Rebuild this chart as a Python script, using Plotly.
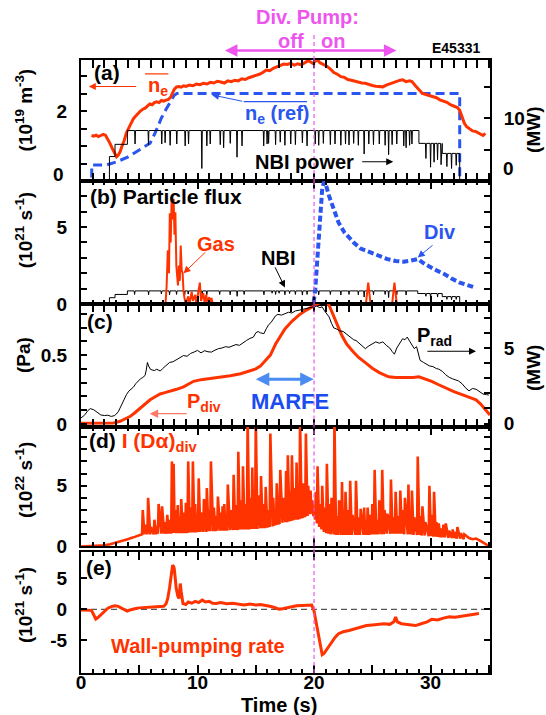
import plotly.graph_objects as go

RED = "#ff3300"
BLUE = "#2a55ee"
MAGENTA = "#ee55ee"
LIGHT_BLUE = "#4a8cf2"
LIGHT_RED = "#ff7a66"
FONT = "Liberation Sans, Arial, Helvetica, sans-serif"

# ---------------- panel (a): line-averaged density, reference, NBI power ----------------
ne_t = [0.9, 1.1, 1.3, 1.5, 1.7, 1.9, 2.1, 2.3, 2.5, 2.7, 2.9, 3.05, 3.2, 3.35, 3.5, 3.7, 3.9, 4.1,
        4.3, 4.5, 4.7, 4.9, 5.1, 5.3, 5.5, 5.7, 5.9, 6.1, 6.3, 6.5, 6.7, 6.9, 7.1, 7.3, 7.5, 7.7,
        7.85, 8.0, 8.2, 8.4, 8.6, 8.8, 9.0, 9.3, 9.6, 9.9, 10.2, 10.5, 10.8, 11.1, 11.4, 11.7, 12.0,
        12.3, 12.6, 12.9, 13.2, 13.5, 13.8, 14.1, 14.4, 14.7, 15.0, 15.3, 15.6, 15.9, 16.2, 16.5,
        16.8, 17.1, 17.4, 17.7, 18.0, 18.3, 18.6, 18.9, 19.2, 19.5, 19.7, 19.9, 20.1, 20.3, 20.5,
        20.8, 21.1, 21.4, 21.7, 22.0, 22.3, 22.6, 22.9, 23.2, 23.5, 23.8, 24.1, 24.4, 24.7, 25.0,
        25.3, 25.6, 25.9, 26.2, 26.5, 26.8, 27.1, 27.4, 27.6, 27.9, 28.2, 28.4, 28.7, 29.0, 29.3,
        29.6, 29.9, 30.2, 30.5, 30.8, 31.1, 31.4, 31.7, 32.0, 32.3, 32.5, 32.7, 32.9, 33.1, 33.3,
        33.6, 33.9, 34.2, 34.5, 34.7]
ne_val = [1.30, 1.28, 1.31, 1.27, 1.30, 1.33, 1.31, 1.20, 1.07, 0.92, 0.78, 0.69, 0.74, 0.83, 0.98,
          1.15, 1.38, 1.52, 1.66, 1.78, 1.86, 1.94, 2.00, 2.05, 2.08, 2.14, 2.20, 2.18, 2.24, 2.26,
          2.24, 2.30, 2.28, 2.31, 2.33, 2.40, 2.50, 2.62, 2.69, 2.70, 2.68, 2.72, 2.70, 2.74, 2.72,
          2.77, 2.75, 2.79, 2.77, 2.82, 2.80, 2.85, 2.83, 2.80, 2.86, 2.84, 2.88, 2.86, 2.92, 2.90,
          2.95, 2.98, 3.02, 3.05, 3.10, 3.17, 3.15, 3.22, 3.26, 3.30, 3.34, 3.33, 3.36, 3.31, 3.35,
          3.32, 3.38, 3.44, 3.40, 3.36, 3.42, 3.46, 3.38, 3.33, 3.28, 3.20, 3.10, 3.05, 2.98, 2.96,
          2.90, 2.88, 2.85, 2.82, 2.80, 2.79, 2.75, 2.73, 2.71, 2.70, 2.69, 2.74, 2.78, 2.80, 2.84,
          2.88, 2.89, 2.84, 2.86, 2.84, 2.72, 2.60, 2.50, 2.47, 2.44, 2.40, 2.38, 2.32, 2.28, 2.25,
          2.18, 2.15, 2.10, 2.02, 1.84, 1.65, 1.55, 1.50, 1.43, 1.41, 1.36, 1.30, 1.36]

ne_ref_t = [0.92, 0.92, 2.2, 3.07, 4.0, 4.8, 5.4, 5.93, 6.4, 6.9, 7.3, 7.65, 8.0, 8.23, 32.5, 32.5]
ne_ref_val = [-0.3, 0.46, 0.46, 0.55, 0.68, 0.84, 0.95, 1.08, 1.4, 1.8, 2.05, 2.27, 2.45, 2.5, 2.5, -0.3]

# NBI power (MW): plateau levels switched at the given times, plus short dropouts
nbi_step_t = [0.0, 2.44, 2.92, 3.98, 29.0, 31.0, 32.5]
nbi_step_mw = [0.0, 3.9, 5.85, 8.05, 6.0, 4.4, 0.0]
nbi_dip_t = [4.64, 5.79, 6.93, 7.22, 7.65, 8.22, 8.94, 9.23, 10.37, 10.8, 11.09, 11.95, 12.24, 12.81,
             13.39, 13.82, 15.68, 15.97, 16.1, 16.7, 17.1, 17.5, 18.0, 18.4, 19.0, 19.4, 20.1, 20.4,
             20.8, 21.4, 21.8, 22.3, 22.7, 23.0, 23.4, 23.8, 24.3, 24.7, 25.1, 25.6, 26.1, 26.4,
             26.7, 27.1, 27.7, 27.9, 28.2, 28.4, 29.6, 30.0, 30.3, 30.6, 30.9, 31.4, 31.8, 32.2]
nbi_dip_mw = [5.9, 5.8, 5.9, 6.1, 5.7, 5.9, 5.6, 5.9, 2.0, 5.6, 5.9, 5.8, 5.3, 6.0,
              3.8, 5.6, 5.6, 5.9, 6.0, 5.8, 6.2, 5.7, 5.9, 5.8, 6.1, 5.6, 5.9, 5.7,
              6.0, 5.8, 5.9, 5.7, 5.9, 5.75, 6.0, 5.7, 4.3, 5.9, 5.8, 5.9, 5.7, 4.2,
              5.8, 5.9, 5.6, 5.3, 5.7, 5.9, 3.6, 2.2, 3.0, 3.4, 2.6, 2.3, 2.0, 2.5]

# ---------------- panel (b): particle fluxes (1e21 /s) ----------------
gas_t = [0.0, 7.25, 7.35, 7.45, 7.55, 7.62, 7.7, 7.78, 7.85, 7.95, 8.02, 8.1, 8.18, 8.25, 8.32, 8.4,
         8.48, 8.56, 8.64, 8.72, 8.8, 8.9, 9.0, 9.2, 9.3, 9.5, 9.6, 9.8, 9.9, 10.05, 10.2, 10.3,
         10.5, 10.6, 10.75, 10.85, 11.0, 11.1, 11.2, 11.3, 24.45, 24.65, 24.85, 26.7, 26.9, 27.1, 35.0]
gas_val = [0.0, 0.0, 1.2, 3.5, 2.0, 5.9, 4.0, 6.95, 5.5, 6.85, 4.5, 5.97, 2.5, 1.8, 1.2, 2.5,
           1.5, 3.8, 2.2, 2.0, 0.8, 0.3, 0.0, 0.5, 0.0, 0.8, 0.2, 0.6, 0.0, 0.7, 1.39, 0.2,
           0.7, 0.1, 0.6, 0.0, 0.45, 0.0, 0.4, 0.0, 0.0, 1.39, 0.0, 0.0, 1.39, 0.0, 0.0]

nbi_flux_step_t = [0.0, 2.44, 2.92, 3.98, 28.9, 31.0, 32.5]
nbi_flux_step_v = [0.0, 0.41, 0.62, 0.85, 0.68, 0.48, 0.0]
nbi_flux_dip_t = [4.6, 5.8, 6.9, 7.6, 8.2, 8.9, 9.2, 10.4, 10.8, 11.9, 12.8, 13.4, 14.0, 15.7, 16.4,
                  16.7, 17.0, 17.5, 17.9, 18.4, 19.0, 19.4, 20.4, 21.4, 22.3, 23.0, 23.8, 24.3,
                  25.1, 26.1, 26.4, 27.1, 27.9, 29.6, 30.0, 30.6, 31.4, 31.8, 32.2]
nbi_flux_dip_v = [0.62, 0.6, 0.65, 0.6, 0.62, 0.58, 0.64, 0.45, 0.6, 0.62, 0.6, 0.5, 0.62, 0.6, 0.7,
                  0.62, 0.7, 0.6, 0.68, 0.62, 0.58, 0.62, 0.6, 0.62, 0.58, 0.62, 0.6, 0.45,
                  0.6, 0.62, 0.42, 0.6, 0.58, 0.5, 0.4, 0.45, 0.3, 0.28, 0.3]

div_t = [0.0, 19.95, 20.1, 20.3, 20.5, 20.7, 20.85, 21.0, 21.3, 21.7, 22.1, 22.6, 23.0, 23.4, 24.0,
         24.9, 25.6, 26.3, 27.0, 27.7, 28.3, 28.9, 29.5, 30.0, 30.6, 31.2, 31.8, 32.5, 33.2, 33.9]
div_val = [0.0, 0.0, 0.9, 3.0, 5.5, 7.5, 7.95, 7.8, 7.0, 6.2, 5.3, 4.66, 4.3, 4.0, 3.6,
           3.35, 3.1, 2.92, 2.8, 2.75, 2.82, 2.92, 2.6, 2.37, 2.15, 1.94, 1.65, 1.39, 1.2, 1.05]

# ---------------- panel (c): divertor neutral pressure (Pa) and radiated power (MW) ----------------
pdiv_t = [0.0, 1.0, 2.0, 2.8, 3.35, 3.8, 4.2, 4.6, 5.07, 5.5, 5.93, 6.4, 6.79, 7.2, 7.65, 8.2, 8.8,
          9.2, 9.66, 10.3, 11.09, 12.0, 12.81, 13.7, 14.53, 15.0, 15.39, 15.8, 16.25, 16.7, 17.1,
          17.5, 18.1, 18.7, 19.3, 19.8, 20.3, 20.7, 21.0, 21.3, 21.55, 21.8, 22.1, 22.4, 22.8,
          23.3, 23.8, 24.4, 25.0, 25.6, 26.0, 26.4, 27.0, 27.9, 28.5, 29.0, 29.5, 30.1, 30.7,
          31.3, 32.0, 32.7, 33.3, 33.9, 34.3, 34.7, 35.1]
pdiv_pa = [0.005, 0.005, 0.005, 0.008, 0.02, 0.035, 0.054, 0.08, 0.115, 0.15, 0.176, 0.2, 0.218,
           0.228, 0.238, 0.252, 0.27, 0.29, 0.31, 0.322, 0.33, 0.34, 0.35, 0.365, 0.385, 0.4, 0.42,
           0.46, 0.5, 0.58, 0.64, 0.69, 0.745, 0.79, 0.825, 0.85, 0.875, 0.89, 0.885, 0.86, 0.81,
           0.765, 0.7, 0.64, 0.58, 0.53, 0.485, 0.446, 0.405, 0.373, 0.355, 0.343, 0.338, 0.336,
           0.338, 0.343, 0.33, 0.31, 0.285, 0.26, 0.235, 0.213, 0.195, 0.176, 0.145, 0.105, 0.065]

prad_t = [0.0, 0.3, 0.6, 0.8, 1.1, 1.4, 1.7, 2.0, 2.3, 2.6, 2.9, 3.2, 3.5, 3.7, 3.9, 4.1, 4.3, 4.5,
          4.7, 4.9, 5.1, 5.3, 5.5, 5.6, 5.7, 5.8, 5.95, 6.1, 6.3, 6.5, 6.8, 7.0, 7.3, 7.6, 7.9, 8.2,
          8.5, 8.8, 9.1, 9.4, 9.7, 10.0, 10.3, 10.6, 10.9, 11.2, 11.5, 11.8, 12.1, 12.4, 12.7, 13.0,
          13.3, 13.6, 13.9, 14.2, 14.5, 14.8, 15.0, 15.2, 15.4, 15.7, 15.9, 16.1, 16.3, 16.5, 16.7,
          16.9, 17.2, 17.5, 17.8, 18.1, 18.4, 18.7, 19.0, 19.3, 19.6, 19.9, 20.2, 20.5, 20.7, 20.9,
          21.1, 21.3, 21.5, 21.7, 21.9, 22.2, 22.5, 22.8, 23.1, 23.4, 23.6, 23.9, 24.2, 24.4, 24.7,
          25.0, 25.3, 25.6, 25.9, 26.2, 26.5, 26.7, 26.9, 27.1, 27.3, 27.6, 27.8, 28.0, 28.2, 28.4,
          28.6, 28.8, 29.0, 29.1, 29.4, 29.7, 29.9, 30.2, 30.5, 30.7, 31.0, 31.3, 31.6, 31.9, 32.2,
          32.4, 32.7, 33.0, 33.3, 33.6, 33.9, 34.2, 34.5, 34.8, 35.0]
prad_mw = [0.37, 0.55, 0.87, 0.99, 0.91, 0.73, 0.57, 0.53, 0.55, 0.47, 0.53, 0.78, 1.28, 1.64, 1.92,
           2.15, 2.28, 2.42, 2.65, 2.83, 2.97, 3.06, 3.2, 3.56, 4.06, 3.83, 3.61, 3.56, 3.52, 3.61,
           3.49, 3.65, 3.83, 4.06, 4.11, 4.25, 4.43, 4.52, 4.47, 4.66, 4.75, 4.86, 4.7, 4.84, 4.77,
           4.75, 4.88, 4.98, 5.02, 5.11, 5.07, 5.16, 5.25, 5.2, 5.39, 5.52, 5.66, 5.75, 6.03, 6.12,
           6.03, 5.98, 6.3, 6.57, 6.71, 6.94, 7.17, 7.26, 7.21, 7.3, 7.4, 7.35, 7.49, 7.53, 7.58,
           7.62, 7.71, 7.76, 7.81, 7.71, 7.76, 7.49, 7.3, 7.08, 6.66, 6.35, 6.3, 6.16, 6.12, 5.93,
           5.75, 5.57, 5.52, 5.3, 5.11, 4.98, 5.16, 5.3, 5.43, 5.34, 5.43, 5.2, 5.02, 4.79, 4.61,
           5.02, 5.3, 5.64, 5.57, 5.75, 5.48, 5.2, 4.98, 5.11, 4.57, 4.2, 4.06, 3.93, 3.83, 3.79,
           3.65, 3.62, 3.47, 3.24, 3.07, 2.97, 2.88, 2.83, 2.65, 2.37, 2.17, 2.33, 2.28, 2.1, 1.96,
           1.92, 1.89]

# ---------------- panel (d): divertor D-alpha intensity (1e22 /s) ----------------
da_head_t = [0.0, 0.5, 1.0, 1.5, 2.0, 2.5, 3.0, 3.5, 4.0, 4.5, 5.0]
da_head_v = [0.0, 0.02, 0.05, 0.08, 0.1, 0.18, 0.3, 0.45, 0.6, 0.75, 0.9]
da_spike_t = [5.30, 5.50, 5.76, 6.00, 6.30, 6.50, 6.66, 6.96, 7.20, 7.40, 7.60, 7.80, 7.95, 8.10,
              8.30, 8.45, 8.60, 8.80, 9.00, 9.20, 9.40, 9.60, 9.80, 9.95, 10.10, 10.30, 10.55,
              10.80, 11.00, 11.15, 11.40, 11.60, 11.75, 12.00, 12.15, 12.30, 12.45, 12.60, 12.85,
              13.10, 13.30, 13.50, 13.70, 13.90, 14.10, 14.30, 14.50, 14.70, 14.85, 15.00, 15.20,
              15.45, 15.65, 15.85, 16.05, 16.25, 16.50, 16.65, 16.80, 17.00, 17.10, 17.35, 17.60,
              17.75, 17.95, 18.10, 18.30, 18.50, 18.65, 18.80, 19.00, 19.10, 19.30, 19.50, 19.70,
              19.85, 20.00, 20.15, 20.30, 20.50, 20.70, 20.90, 21.10, 21.30, 21.50, 21.75, 21.95,
              22.15, 22.40, 22.55, 22.70, 22.90, 23.10, 23.30, 23.60, 23.80, 24.00, 24.30, 24.45,
              24.60, 24.80, 25.00, 25.20, 25.40, 25.60, 25.85, 26.05, 26.30, 26.60, 26.80, 27.00,
              27.20, 27.40, 27.60, 27.80, 28.10, 28.25, 28.40, 28.60, 28.90, 29.10, 29.30, 29.55,
              29.90, 30.10, 30.30, 30.50, 30.70, 30.90, 31.10, 31.30, 31.60, 31.90, 32.10, 32.30,
              32.60, 32.90]
da_spike_peak = [3.0, 1.8, 4.0, 1.6, 2.2, 1.7, 3.5, 3.3, 2.0, 2.6, 2.2, 7.0, 6.8, 3.0,
                 3.4, 2.4, 3.9, 2.8, 3.6, 7.0, 3.2, 7.0, 3.5, 2.6, 5.6, 2.8, 3.9,
                 4.8, 3.0, 7.0, 3.2, 2.5, 4.1, 2.8, 3.3, 3.5, 2.6, 5.1, 3.0,
                 5.9, 3.4, 7.8, 3.8, 6.6, 3.5, 10.5, 4.0, 6.5, 3.3, 10.5, 4.2,
                 5.8, 3.5, 4.9, 3.0, 9.3, 4.0, 3.0, 5.2, 3.2, 6.3, 4.0, 6.2,
                 7.5, 4.5, 7.5, 4.8, 6.9, 4.2, 10.5, 4.5, 5.2, 9.3, 5.0, 4.6,
                 3.8, 3.2, 4.5, 6.6, 3.5, 5.0, 3.2, 6.8, 3.5, 4.0, 10.5, 2.5,
                 3.8, 5.3, 2.5, 4.5, 3.0, 5.4, 2.6, 5.4, 2.4, 3.1, 3.2, 2.0,
                 3.2, 2.6, 3.5, 6.3, 2.2, 3.8, 6.3, 3.0, 2.7, 5.5, 2.4, 4.5,
                 2.5, 4.6, 3.0, 4.0, 5.1, 2.6, 4.6, 2.4, 7.4, 2.5, 3.3, 2.0,
                 5.0, 2.6, 4.5, 2.0, 1.9, 1.5, 1.8, 1.9, 1.3, 1.4, 1.2, 1.6,
                 1.1, 1.0]
da_spike_foot = [1.0, 1.0, 1.0, 1.0, 1.0, 1.0, 1.05, 1.05, 1.05, 1.05, 1.05, 1.05, 1.1, 1.1,
                 1.1, 1.1, 1.1, 1.1, 1.1, 1.1, 1.15, 1.15, 1.15, 1.15, 1.2, 1.2, 1.2,
                 1.2, 1.25, 1.25, 1.25, 1.25, 1.3, 1.3, 1.3, 1.3, 1.3, 1.3, 1.35,
                 1.35, 1.35, 1.35, 1.4, 1.4, 1.4, 1.4, 1.4, 1.45, 1.45, 1.45, 1.45,
                 1.5, 1.5, 1.5, 1.55, 1.6, 1.65, 1.7, 1.75, 1.8, 1.85, 1.95, 2.0,
                 2.0, 2.05, 2.1, 2.15, 2.2, 2.2, 2.25, 2.3, 2.35, 2.4, 2.5, 2.65,
                 2.7, 2.5, 2.2, 1.9, 1.6, 1.4, 1.2, 1.1, 1.05, 1.0, 1.0, 0.95,
                 0.95, 0.95, 0.95, 0.95, 0.95, 0.95, 0.95, 0.95, 0.95, 0.95, 0.95, 0.95,
                 0.95, 0.95, 1.0, 1.0, 1.0, 1.0, 1.0, 1.0, 1.05, 1.05, 1.05, 1.05,
                 1.05, 1.05, 1.05, 1.0, 1.0, 1.0, 1.0, 0.95, 0.95, 0.95, 0.9, 0.9,
                 0.85, 0.85, 0.8, 0.8, 0.8, 0.75, 0.75, 0.75, 0.7, 0.7, 0.7, 0.65,
                 0.65, 0.6]
da_tail_t = [33.3, 33.6, 33.9, 34.2, 34.5, 34.8, 35.0]
da_tail_v = [0.7, 0.6, 0.65, 0.5, 0.35, 0.15, 0.0]

# ---------------- panel (e): wall-pumping rate (1e21 /s) ----------------
wall_t = [0.0, 0.5, 0.9, 1.1, 1.27, 1.45, 1.7, 2.0, 2.3, 2.6, 2.9, 3.2, 3.5, 3.75, 3.96, 4.2, 4.4,
          4.7, 5.0, 5.5, 6.0, 6.5, 7.1, 7.3, 7.45, 7.6, 7.7, 7.8, 7.86, 7.95, 8.0, 8.1, 8.17, 8.3,
          8.4, 8.47, 8.52, 8.6, 8.75, 9.0, 9.2, 9.5, 9.8, 10.1, 10.4, 10.7, 11.0, 11.3, 11.6, 12.0,
          12.5, 13.0, 13.5, 14.0, 14.5, 15.0, 15.4, 15.8, 16.2, 16.6, 17.0, 17.3, 17.6, 18.0, 18.5,
          19.0, 19.5, 19.8, 19.98, 20.15, 20.3, 20.5, 20.7, 20.85, 21.0, 21.2, 21.5, 21.8, 22.1,
          22.5, 23.0, 23.5, 24.0, 24.5, 25.0, 25.5, 26.0, 26.5, 26.85, 27.0, 27.15, 27.5, 28.0,
          28.7, 29.2, 29.7, 30.1, 30.6, 31.1, 31.6, 32.1, 32.6, 33.1, 33.6, 34.15]
wall_val = [-0.1, -0.1, -0.15, -0.9, -1.55, -1.3, -0.9, -0.4, 0.2, 0.45, 0.6, 0.5, 0.25, 0.0, -0.26,
            -0.1, 0.05, 0.15, 0.25, 0.3, 0.35, 0.45, 0.5, 0.9, 1.8, 3.5, 5.0, 6.4, 7.1, 6.9, 6.6,
            4.8, 3.4, 2.2, 1.76, 3.0, 4.17, 2.8, 0.95, 0.8, 1.2, 1.0, 1.3, 1.1, 1.5, 1.2, 1.3, 1.0,
            0.95, 1.1, 0.9, 1.0, 0.8, 0.7, 0.85, 0.7, 0.8, 0.7, 0.5, 0.3, 0.05, 0.1, 0.25, 0.45,
            0.58, 0.62, 0.65, 0.7, -0.1, -1.8, -3.6, -5.5, -7.3, -7.1, -6.7, -6.0, -5.2, -4.5,
            -3.9, -3.6, -3.4, -3.1, -2.9, -2.6, -2.5, -2.4, -2.3, -2.4, -2.0, -1.2, -2.0, -2.3,
            -2.4, -2.6, -2.3, -2.0, -1.6, -1.7, -1.4, -1.2, -1.25, -1.1, -0.95, -0.85, -0.65]

PUMP_ON_T = 20.0


def level_at(t, step_t, step_v):
    lvl = step_v[0]
    for st, sv in zip(step_t, step_v):
        if t >= st:
            lvl = sv
    return lvl


def plateau_with_dips(step_t, step_v, dip_t, dip_v, t_end, half_width=0.04):
    """Piecewise-constant signal with vertical steps and narrow downward dropouts."""
    events = []
    for i, (st, sv) in enumerate(zip(step_t, step_v)):
        prev = step_v[i - 1] if i > 0 else sv
        events.append((st, [(st, prev), (st, sv)]))
    for dt, dv in zip(dip_t, dip_v):
        lvl = level_at(dt, step_t, step_v)
        events.append((dt, [(dt - half_width, lvl), (dt, dv), (dt + half_width, lvl)]))
    events.sort(key=lambda e: e[0])
    xs, ys = [], []
    for _, pts in events:
        for x, y in pts:
            xs.append(x)
            ys.append(y)
    xs.append(t_end)
    ys.append(step_v[-1])
    return xs, ys


nbi_x, nbi_y = plateau_with_dips(nbi_step_t, nbi_step_mw, nbi_dip_t, nbi_dip_mw, 35.1)
nbif_x, nbif_y = plateau_with_dips(nbi_flux_step_t, nbi_flux_step_v, nbi_flux_dip_t, nbi_flux_dip_v, 35.1)

da_x = list(da_head_t)
da_y = list(da_head_v)
for t, pk, ft in zip(da_spike_t, da_spike_peak, da_spike_foot):
    da_x += [t - 0.06, t]
    da_y += [ft, pk]
da_x += da_tail_t
da_y += da_tail_v

fig = go.Figure()

# panel (a)
fig.add_trace(go.Scatter(x=nbi_x, y=nbi_y, xaxis="x", yaxis="y2", mode="lines",
                         line=dict(color="black", width=1)))
fig.add_trace(go.Scatter(x=ne_ref_t, y=ne_ref_val, xaxis="x", yaxis="y", mode="lines",
                         line=dict(color=BLUE, width=3, dash="9px,5px")))
fig.add_trace(go.Scatter(x=ne_t, y=ne_val, xaxis="x", yaxis="y", mode="lines",
                         line=dict(color=RED, width=3)))
# panel (b)
fig.add_trace(go.Scatter(x=nbif_x, y=nbif_y, xaxis="x2", yaxis="y3", mode="lines",
                         line=dict(color="black", width=1)))
fig.add_trace(go.Scatter(x=gas_t, y=gas_val, xaxis="x2", yaxis="y3", mode="lines",
                         line=dict(color=RED, width=2)))
fig.add_trace(go.Scatter(x=div_t, y=div_val, xaxis="x2", yaxis="y3", mode="lines",
                         line=dict(color=BLUE, width=4, dash="6px,3px")))
# panel (c)
fig.add_trace(go.Scatter(x=prad_t, y=prad_mw, xaxis="x3", yaxis="y5", mode="lines",
                         line=dict(color="black", width=1)))
fig.add_trace(go.Scatter(x=pdiv_t, y=pdiv_pa, xaxis="x3", yaxis="y4", mode="lines",
                         line=dict(color=RED, width=3)))
# panel (d)
fig.add_trace(go.Scatter(x=da_x, y=da_y, xaxis="x4", yaxis="y6", mode="lines",
                         line=dict(color=RED, width=2.6)))
# panel (e)
fig.add_trace(go.Scatter(x=wall_t, y=wall_val, xaxis="x5", yaxis="y7", mode="lines",
                         line=dict(color=RED, width=3)))

X_RANGE = [0, 35.1]
AX_LINE = dict(showline=True, linecolor="black", linewidth=2, showgrid=False, zeroline=False,
               ticks="inside", tickcolor="black", tickwidth=1.5)


def x_axis(anchor, labels):
    return dict(AX_LINE, range=X_RANGE, domain=[0, 1], anchor=anchor, mirror="allticks",
                ticklen=8, tickmode="array", tickvals=[0, 5, 10, 15, 20, 25, 30, 35],
                ticktext=["0", "", "10", "", "20", "", "30", ""], showticklabels=labels,
                ticklabelstandoff=-9,
                minor=dict(ticks="inside", ticklen=4, tickwidth=1.5, tickcolor="black",
                           tickmode="linear", tick0=0, dtick=1))


def y_axis(domain, rng, tickvals, ticktext, minor_dtick, anchor, mirror, side="left", overlaying=None):
    d = dict(AX_LINE, domain=domain, range=rng, anchor=anchor, mirror=mirror, side=side,
             ticklen=6, tickmode="array", tickvals=tickvals, ticktext=ticktext,
             ticklabelstandoff=8)
    if minor_dtick:
        d["minor"] = dict(ticks="inside", ticklen=6, tickwidth=1.5, tickcolor="black",
                          tickmode="linear", tick0=0, dtick=minor_dtick)
    if overlaying:
        d["overlaying"] = overlaying
        d.pop("domain")
    return d


fig.update_layout(
    width=546, height=715,
    margin=dict(l=81, r=56, t=60, b=42),
    paper_bgcolor="white", plot_bgcolor="white",
    showlegend=False,
    font=dict(family=FONT, size=19, color="black", weight="bold"),
    xaxis=x_axis("y", False),
    xaxis2=x_axis("y3", False),
    xaxis3=x_axis("y4", False),
    xaxis4=x_axis("y6", False),
    xaxis5=x_axis("y7", True),
    # the "0" labels of panel (a) sit slightly above the frame; they are drawn as annotations below
    yaxis=y_axis([0.8026, 1.0], [0, 3.457], [0, 2], ["", "2"], 0.5, "x", False),
    yaxis2=y_axis(None, [0, 19.3], [0, 10], ["", "10"], 5, "x", False, "right", "y"),
    yaxis3=y_axis([0.602, 0.8026], [0, 8.0], [0, 5], ["0", "5"], 1, "x2", "allticks"),
    yaxis4=y_axis([0.4021, 0.602], [-0.018, 0.871], [0, 0.5], ["0", "0.5"], 0.1, "x3", False),
    yaxis5=y_axis(None, [-0.2, 7.95], [0, 5], ["0", "5"], 1, "x3", False, "right", "y4"),
    yaxis6=y_axis([0.2064, 0.4021], [0, 9.87], [0, 5], ["0", "5"], 1, "x4", "allticks"),
    yaxis7=y_axis([0.0, 0.1979], [-10.23, 9.29], [-5, 0, 5], ["-5", "0", "5"], None, "x5", "allticks"),
)

PUMP_LINE = dict(color=MAGENTA, width=1.2, dash="4px,3px")
shapes = []
# pump switch-on time: one segment per panel, plus the header and the gap above panel (e)
for yr in ["y", "y3", "y4", "y6", "y7"]:
    shapes.append(dict(type="line", xref="x", yref=yr + " domain", x0=PUMP_ON_T, x1=PUMP_ON_T,
                       y0=0, y1=1, line=PUMP_LINE, layer="above"))
shapes.append(dict(type="line", xref="x", yref="y domain", x0=PUMP_ON_T, x1=PUMP_ON_T,
                   y0=1, y1=1.22, line=PUMP_LINE, layer="above"))
shapes.append(dict(type="line", xref="x", yref="y6 domain", x0=PUMP_ON_T, x1=PUMP_ON_T,
                   y0=-0.05, y1=0, line=PUMP_LINE, layer="above"))
shapes += [
    # zero reference in panel (e)
    dict(type="line", xref="x5 domain", yref="y7", x0=0, x1=1, y0=0, y1=0,
         line=dict(color="#555555", width=1.2, dash="6px,4px"), layer="below"),
    # overbars of the density labels
    dict(type="line", xref="x", yref="y", x0=5.5, x1=7.5, y0=3.06, y1=3.06,
         line=dict(color=RED, width=1.2)),
    dict(type="line", xref="x", yref="y", x0=13.96, x1=19.4, y0=2.27, y1=2.27,
         line=dict(color=BLUE, width=1.2)),
]
fig.update_layout(shapes=shapes)


def label(text, x, y, xref, yref, color="black", size=20, xanchor="center", yanchor="middle", angle=0):
    return dict(text=text, x=x, y=y, xref=xref, yref=yref, showarrow=False, xanchor=xanchor,
                yanchor=yanchor, textangle=angle, font=dict(color=color, size=size))


def arrow(x, y, ax, ay, xref, yref, color, width=1.0, size=1.4, both=False):
    return dict(text="", x=x, y=y, ax=ax, ay=ay, xref=xref, yref=yref, axref=xref, ayref=yref,
                showarrow=True, arrowhead=2, arrowsize=size, arrowwidth=width, arrowcolor=color,
                standoff=0, startstandoff=0, arrowside="end+start" if both else "end",
                startarrowhead=2, startarrowsize=size)


pump_arrow = dict(text="", x=12.35, y=1.0155, xref="x", yref="paper", ax=27.2, ay=0,
                  axref="x", ayref="pixel", showarrow=True, arrowhead=2, arrowsize=1.0,
                  arrowwidth=2.5, arrowcolor=MAGENTA, standoff=0, startstandoff=0,
                  arrowside="end+start", startarrowhead=2, startarrowsize=1.0)

ann = [
    # header
    label("Div. Pump:", 0.555, 1.070, "paper", "paper", MAGENTA, 20),
    label("off", 0.550, 1.031, "paper", "paper", MAGENTA, 20, xanchor="right"),
    label("on", 0.582, 1.031, "paper", "paper", MAGENTA, 20, xanchor="left"),
    pump_arrow,
    label("E45331", 0.917, 1.0196, "paper", "paper", "black", 14),
    # axis titles
    label("(10<sup>19</sup> m<sup>-3</sup>)", -0.139, 0.918, "paper", "paper", angle=-90, size=19),
    label("(10<sup>21</sup> s<sup>-1</sup>)", -0.139, 0.7227, "paper", "paper", angle=-90, size=19),
    label("(Pa)", -0.139, 0.519, "paper", "paper", angle=-90, size=19),
    label("(10<sup>22</sup> s<sup>-1</sup>)", -0.139, 0.315, "paper", "paper", angle=-90, size=19),
    label("(10<sup>21</sup> s<sup>-1</sup>)", -0.139, 0.111, "paper", "paper", angle=-90, size=19),
    label("(MW)", 1.1076, 0.886, "paper", "paper", angle=-90, size=19),
    label("(MW)", 1.1076, 0.4976, "paper", "paper", angle=-90, size=19),
    label("Time (s)", 0.484, -0.052, "paper", "paper", size=20),
    # zero labels of panel (a)
    label("0", -0.0367, 0.8124, "paper", "paper", size=19, xanchor="right"),
    label("0", 1.027, 0.8238, "paper", "paper", size=19, xanchor="left"),
    # panel (a)
    label("(a)", 0.92, 3.09, "x", "y", size=21, xanchor="left"),
    label("n<sub>e</sub>", 6.6, 2.71, "x", "y", RED, 20),
    arrow(0.67, 2.7, 4.86, 2.7, "x", "y", RED, 1.0),
    label("n<sub>e</sub> (ref)", 16.85, 1.89, "x", "y", BLUE, 20),
    arrow(11.24, 2.46, 13.96, 2.27, "x", "y", BLUE, 1.0),
    label("NBI power", 19.2, 0.55, "x", "y", "black", 20),
    arrow(26.8, 0.55, 24.0, 0.55, "x", "y", "black", 1.0),
    # panel (b)
    label("(b) Particle flux", 0.6, 7.0, "x2", "y3", size=21, xanchor="left"),
    label("Gas", 11.6, 3.92, "x2", "y3", RED, 20),
    arrow(8.8, 2.0, 10.8, 3.46, "x2", "y3", RED, 1.0),
    label("NBI", 16.9, 3.0, "x2", "y3", "black", 20),
    arrow(17.5, 1.07, 16.6, 2.48, "x2", "y3", "black", 1.0),
    label("Div", 30.8, 4.7, "x2", "y3", BLUE, 20),
    arrow(28.9, 3.03, 30.3, 3.9, "x2", "y3", BLUE, 1.0),
    # panel (c)
    label("(c)", 0.34, 0.743, "x3", "y4", size=21, xanchor="left"),
    label("P<sub>rad</sub>", 28.7, 0.636, "x3", "y4", "black", 20, xanchor="left"),
    arrow(33.9, 0.528, 29.6, 0.528, "x3", "y4", "black", 1.0),
    label("P<sub>div</sub>", 8.95, 0.158, "x3", "y4", RED, 20, xanchor="left"),
    arrow(5.9, 0.075, 9.2, 0.075, "x3", "y4", LIGHT_RED, 1.2),
    label("MARFE", 17.9, 0.16, "x3", "y4", "#1a4cf0", 22),
    arrow(15.0, 0.325, 20.1, 0.325, "x3", "y4", LIGHT_BLUE, 3, 0.9, both=True),
    # panel (d)
    label('<span style="color:black">(d)</span> I (D\u03b1)<sub>div</sub>', 0.49, 8.6, "x4", "y6",
          RED, 21, xanchor="left"),
    # panel (e)
    label("(e)", 0.22, 6.8, "x5", "y7", size=21, xanchor="left"),
    label("Wall-pumping rate", 10.0, -5.9, "x5", "y7", RED, 20),
]
fig.update_layout(annotations=ann)

fig.write_html("out.html")
